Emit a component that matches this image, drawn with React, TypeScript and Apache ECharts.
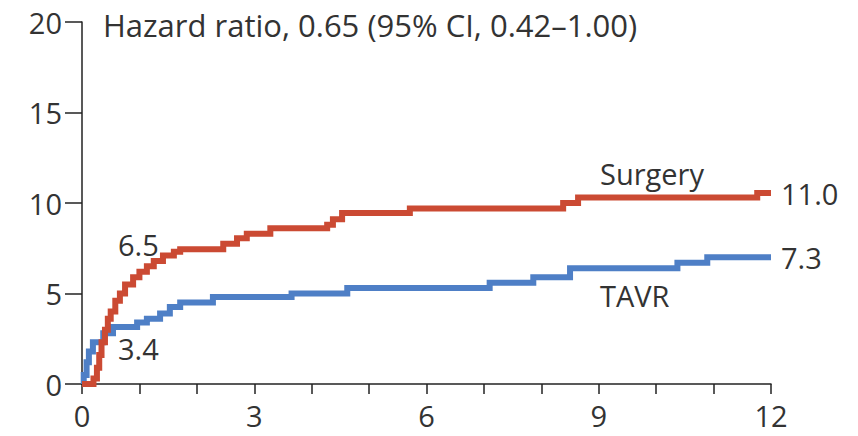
import React, { useEffect, useRef } from "react";
import * as echarts from "echarts";

const surgeryData: [number, number][] = [
  [0, 0], [0.2, 0.3], [0.26, 0.9], [0.3, 1.6], [0.34, 2.3], [0.4, 3.0], [0.45, 3.6],
  [0.5, 4.0], [0.58, 4.6], [0.66, 5.0], [0.75, 5.5], [0.89, 5.9], [1.0, 6.2],
  [1.13, 6.5], [1.25, 6.8], [1.41, 7.1], [1.6, 7.3], [1.71, 7.45], [2.46, 7.75],
  [2.7, 8.05], [2.87, 8.3], [3.28, 8.6], [4.27, 8.8], [4.37, 9.1], [4.53, 9.45],
  [5.71, 9.7], [8.38, 10.0], [8.64, 10.3], [11.76, 10.55], [12, 10.55],
];

const tavrData: [number, number][] = [
  [0, 0], [0.03, 0.5], [0.08, 1.2], [0.12, 1.8], [0.19, 2.3], [0.37, 2.8],
  [0.54, 3.15], [0.96, 3.4], [1.13, 3.6], [1.36, 3.9], [1.53, 4.25], [1.71, 4.5],
  [2.28, 4.8], [3.65, 5.0], [4.62, 5.3], [7.1, 5.6], [7.86, 5.9], [8.5, 6.4],
  [10.37, 6.7], [10.89, 7.0], [12, 7.0],
];

const xTickLabels = [0, 3, 6, 9, 12];
const yTickLabels = [0, 5, 10, 15, 20];
const titleText = "Hazard ratio, 0.65 (95% CI, 0.42\u20131.00)";
const seriesNames = ["Surgery", "TAVR"];
const endValues = ["11.0", "7.3"];
const earlyValues = ["6.5", "3.4"];

const RED = "#cb4a33";
const BLUE = "#4e7fc6";
const TEXT = "#333333";
const FONT = "'Open Sans'";
const FS = 29;

export default function App() {
  const ref = useRef<HTMLDivElement>(null);
  useEffect(() => {
    if (!ref.current) return;
    const chart = echarts.init(ref.current, undefined, { renderer: "svg" });
    const txt = (s: string, x: number, y: number, size = FS) => ({
      type: "text",
      x,
      y,
      style: {
        text: s,
        fill: TEXT,
        font: `${size}px ${FONT}`,
        align: "left",
        verticalAlign: "middle",
      },
    });
    chart.setOption({
      animation: false,
      grid: { left: 82, right: 87, top: 22, bottom: 52, containLabel: false },
      xAxis: {
        type: "value",
        min: 0,
        max: 12,
        interval: 1,
        axisLine: { show: true, onZero: false, lineStyle: { color: "#222", width: 1.5 } },
        axisTick: { show: true, length: 10, lineStyle: { color: "#222", width: 1.5 } },
        splitLine: { show: false },
        axisLabel: {
          margin: 17,
          color: TEXT,
          fontFamily: FONT,
          fontSize: FS,
          formatter: (v: number) => (xTickLabels.includes(v) ? String(v) : ""),
        },
      },
      yAxis: {
        type: "value",
        min: 0,
        max: 20,
        interval: 5,
        axisLine: { show: true, lineStyle: { color: "#222", width: 1.5 } },
        axisTick: { show: true, length: 17, lineStyle: { color: "#222", width: 1.5 } },
        splitLine: { show: false },
        axisLabel: {
          margin: 20,
          color: TEXT,
          fontFamily: FONT,
          fontSize: FS,
          formatter: (v: number) => (yTickLabels.includes(v) ? String(v) : ""),
        },
      },
      series: [
        {
          name: seriesNames[1],
          type: "line",
          step: "end",
          data: tavrData,
          symbol: "none",
          lineStyle: { color: BLUE, width: 6, cap: "butt", join: "miter" },
        },
        {
          name: seriesNames[0],
          type: "line",
          step: "end",
          data: surgeryData,
          symbol: "none",
          lineStyle: { color: RED, width: 6, cap: "butt", join: "miter" },
        },
      ],
      graphic: [
        txt(titleText, 103, 25, 31),
        txt(earlyValues[0], 118, 244),
        txt(earlyValues[1], 118, 348),
        txt(seriesNames[0], 600, 173),
        txt(endValues[0], 781, 193),
        txt(endValues[1], 781, 257),
        txt(seriesNames[1], 600, 295),
      ],
    });
    return () => chart.dispose();
  }, []);
  return <div ref={ref} style={{ width: 858, height: 436, position: "absolute", left: 0, top: 0 }} />;
}
